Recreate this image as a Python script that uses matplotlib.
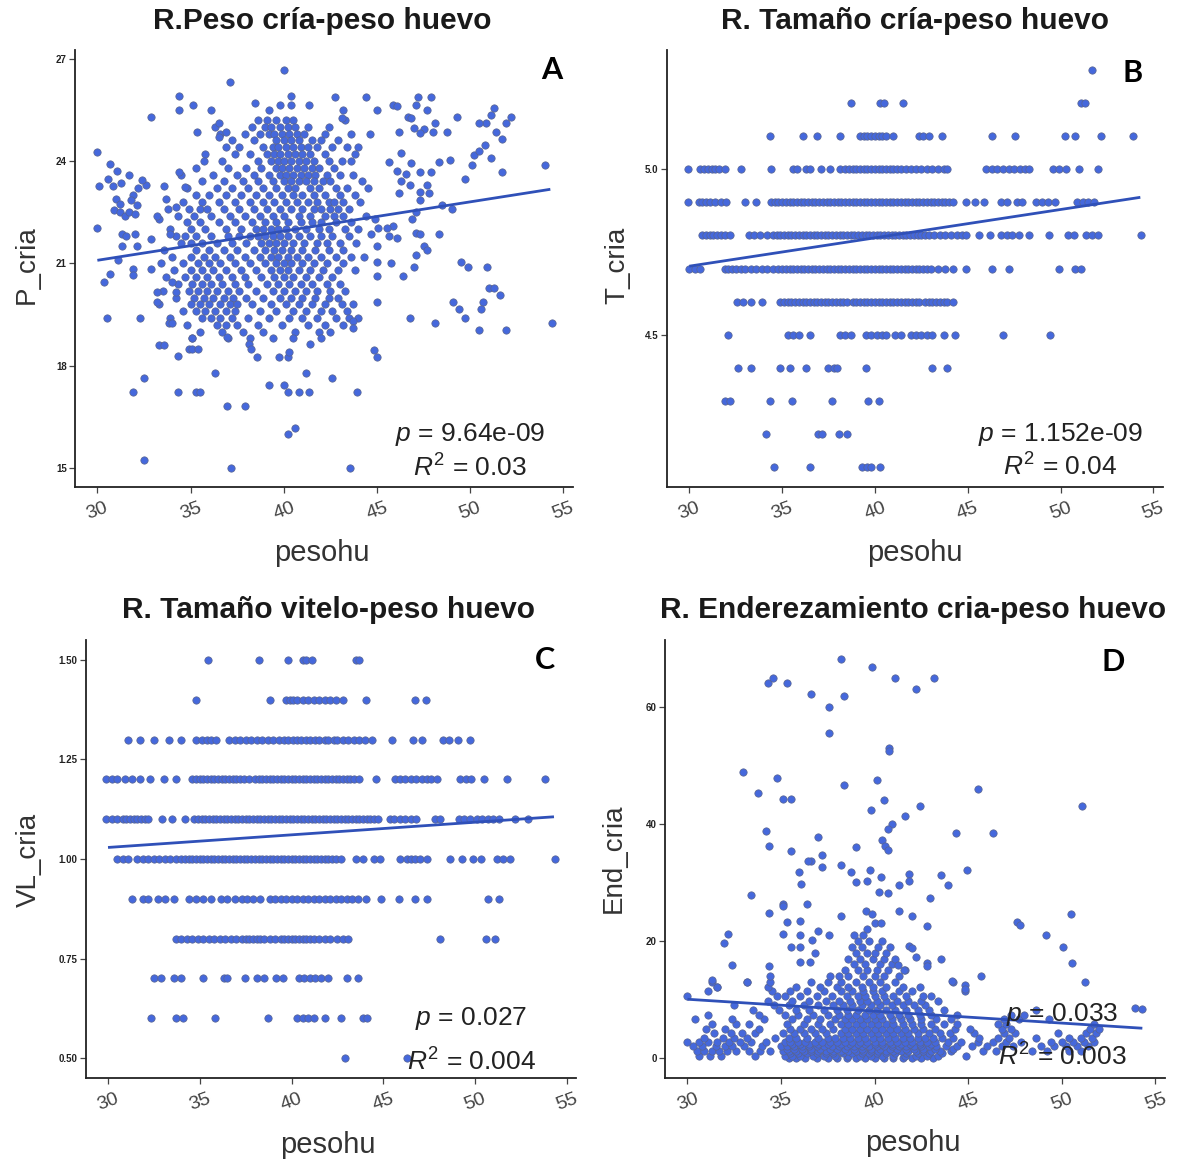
import matplotlib
matplotlib.use('Agg')
import matplotlib.pyplot as plt

plt.rcParams['font.family'] = ['Liberation Sans', 'DejaVu Sans']
plt.rcParams['mathtext.fontset'] = 'custom'
plt.rcParams['mathtext.rm'] = 'Liberation Sans'
plt.rcParams['mathtext.it'] = 'Liberation Sans:italic'

# ---------------- DATA ----------------
titles = ["R.Peso cría-peso huevo", "R. Tamaño cría-peso huevo",
          "R. Tamaño vitelo-peso huevo", "R. Enderezamiento cria-peso huevo"]
ylabels = ["P_cria", "T_cria", "VL_cria", "End_cria"]
xlabel = "pesohu"
letters = ["A", "B", "C", "D"]
p_texts = ["9.64e-09", "1.152e-09", "0.027", "0.033"]
r2_texts = ["0.03", "0.04", "0.004", "0.003"]
x_ticks = [30, 35, 40, 45, 50, 55]

a_yticks = [15, 18, 21, 24, 27]
b_yticks = [4.5, 5.0]
b_yticklabels = ["4.5", "5.0"]
c_yticks = [0.50, 0.75, 1.00, 1.25, 1.50]
c_yticklabels = ["0.50", "0.75", "1.00", "1.25", "1.50"]
d_yticks = [0, 20, 40, 60]

fit_x = [30.0, 54.3]
a_fit_y = [21.09, 23.17]
b_fit_y = [4.707, 4.915]
c_fit_y = [1.029, 1.106]
d_fit_y = [10.05, 5.1]

# Panel A: scattered outer points (x, y)
a_outer = [(30.0, 24.26), (30.0, 22.05), (30.1, 23.27), (30.35, 20.45), (30.5, 19.4), (30.7, 20.7),
           (30.7, 23.9), (30.55, 23.47), (30.85, 23.27), (31.05, 23.7), (31.25, 23.35), (30.9, 22.55),
           (31.2, 22.5), (31.5, 22.4), (31.7, 22.5), (31.0, 22.9), (31.2, 22.75), (31.3, 21.85),
           (31.55, 21.8), (31.3, 21.5), (31.1, 21.1), (31.9, 23.0), (31.8, 22.85), (32.1, 22.7),
           (32.0, 22.45), (31.7, 23.6), (32.0, 21.85), (32.1, 21.5), (31.9, 20.85), (31.9, 20.65),
           (31.9, 17.23), (32.5, 17.64), (32.5, 15.23), (32.3, 19.4), (32.9, 25.3), (32.9, 21.7),
           (32.9, 20.85), (32.6, 23.3), (32.4, 23.45), (32.2, 23.2), (33.2, 19.87), (33.2, 20.17),
           (33.3, 18.6), (33.6, 18.6), (33.7, 22.9), (33.8, 22.6), (33.3, 22.3), (33.2, 22.4),
           (33.6, 23.27), (33.9, 21.85), (33.85, 19.26), (34.0, 19.26), (34.3, 17.23), (34.3, 18.3),
           (34.4, 25.9), (34.4, 25.5), (34.4, 23.67), (34.2, 22.65), (34.0, 20.45), (34.2, 20.15),
           (34.7, 23.25), (34.9, 18.5), (35.1, 18.5), (35.4, 18.5), (35.1, 18.8), (35.15, 25.65),
           (35.35, 24.86), (35.3, 17.23), (35.5, 17.23), (35.7, 24.0), (36.1, 25.5), (36.3, 17.8),
           (36.5, 25.1), (36.5, 24.7), (36.9, 24.86), (36.95, 16.83), (37.9, 16.83), (37.1, 26.3),
           (37.15, 15.0), (36.95, 18.85), (38.15, 18.65), (38.25, 18.5), (38.55, 18.25), (38.45, 25.7),
           (39.2, 17.43), (39.2, 25.5), (39.75, 18.27), (40.2, 18.27), (40.3, 18.4), (40.0, 17.43),
           (40.2, 17.23), (40.8, 17.23), (40.2, 16.0), (40.6, 16.17), (40.0, 26.66), (39.8, 25.65),
           (40.4, 25.65), (40.4, 25.9), (41.2, 17.79), (41.35, 17.23), (41.35, 25.65), (41.4, 18.65),
           (42.6, 17.64), (42.75, 25.87), (43.2, 25.5), (43.1, 25.25), (43.55, 15.0), (43.95, 17.23),
           (44.4, 25.87), (45.0, 25.5), (44.85, 18.45), (45.0, 18.25), (45.0, 19.87), (43.7, 19.3),
           (43.7, 19.1), (45.0, 20.63), (45.0, 21.05), (45.0, 21.5), (44.7, 21.85), (44.9, 22.3),
           (45.86, 25.65), (46.07, 25.6), (46.67, 25.3), (47.08, 25.65), (47.18, 25.87), (47.7, 25.5),
           (47.9, 25.87), (46.8, 25.25), (47.5, 24.94), (48.1, 25.1), (46.2, 24.84), (47.0, 24.96),
           (47.3, 24.82), (47.99, 24.84), (48.74, 24.84), (49.3, 25.3), (48.9, 24.03), (48.35, 23.98),
           (47.9, 23.67), (47.7, 23.3), (47.3, 23.67), (46.8, 23.93), (46.3, 24.23), (45.66, 23.98),
           (46.07, 23.72), (46.27, 23.42), (46.57, 23.62), (46.77, 23.3), (46.17, 23.06), (47.3, 23.1),
           (47.8, 23.06), (47.08, 22.5), (47.3, 22.86), (46.9, 22.3), (45.86, 22.1), (45.55, 22.05),
           (46.07, 21.74), (45.05, 22.05), (45.66, 21.8), (47.08, 21.9), (47.3, 21.85), (47.5, 21.5),
           (47.7, 21.4), (47.08, 21.24), (46.98, 20.88), (46.37, 20.63), (45.76, 21.0), (48.35, 21.85),
           (46.77, 19.4), (48.1, 19.26), (49.1, 19.87), (49.4, 19.67), (49.7, 19.4), (49.5, 21.04),
           (49.9, 20.88), (50.5, 19.06), (50.7, 19.87), (50.6, 19.67), (50.9, 20.88), (51.0, 20.27),
           (51.3, 20.27), (51.6, 20.07), (51.9, 19.06), (54.4, 19.26), (49.7, 23.47), (50.2, 24.18),
           (50.5, 24.28), (50.8, 24.48), (51.1, 24.08), (50.85, 25.1), (51.3, 25.55), (51.1, 25.35),
           (51.4, 24.84), (51.7, 24.64), (51.9, 25.1), (52.2, 25.3), (51.7, 23.67), (54.0, 23.88),
           (50.5, 25.1), (50.1, 23.88), (48.5, 22.7), (49.0, 22.6)]

# Panel A: dense core, one row per y value with its x values
a_core = [
    (25.2, [38.6, 39.1, 39.6, 40.1, 40.5, 43.3]),
    (25.0, [36.3, 38.3, 39.0, 39.3, 39.8, 40.2, 40.6, 41.3, 42.4]),
    (24.8, [36.6, 37.9, 38.7, 39.2, 39.5, 39.9, 40.3, 40.7, 41.1, 42.2, 43.6, 44.6]),
    (24.6, [37.2, 38.4, 39.6, 40.0, 40.4, 40.8, 41.5, 42.0, 42.9]),
    (24.4, [36.9, 37.6, 38.9, 39.4, 39.7, 40.1, 40.5, 40.9, 41.3, 41.8, 42.6, 43.4, 44.0]),
    (24.2, [35.8, 37.4, 38.2, 39.1, 39.5, 39.8, 40.2, 40.6, 41.0, 41.4, 42.2, 43.8]),
    (24.0, [36.7, 38.6, 39.3, 39.7, 40.0, 40.4, 40.8, 41.2, 41.6, 42.4, 43.1, 43.6]),
    (23.8, [35.3, 37.0, 38.0, 38.8, 39.6, 39.9, 40.3, 40.7, 41.1, 41.5, 41.9, 42.7]),
    (23.6, [34.5, 36.2, 37.5, 38.4, 39.2, 39.8, 40.1, 40.5, 40.9, 41.3, 41.7, 42.3, 43.0, 43.7]),
    (23.4, [35.6, 36.8, 37.8, 38.6, 39.4, 40.0, 40.4, 40.8, 41.2, 41.6, 42.1, 42.5, 44.2]),
    (23.2, [34.8, 36.4, 37.2, 38.1, 38.9, 39.6, 40.2, 40.6, 41.4, 41.9, 42.8, 43.4, 44.5]),
    (23.0, [35.3, 36.0, 36.9, 37.7, 38.5, 39.2, 39.9, 40.5, 41.0, 41.6, 42.2, 43.0, 43.8]),
    (22.8, [34.6, 35.6, 36.5, 37.4, 38.2, 38.9, 39.5, 40.1, 40.7, 41.3, 41.8, 42.4, 42.7, 43.2, 44.1]),
    (22.6, [34.9, 35.5, 35.9, 36.8, 37.6, 38.4, 39.1, 39.8, 40.4, 41.0, 41.6, 42.0, 42.5, 42.9, 43.5]),
    (22.4, [34.3, 35.2, 36.1, 37.1, 37.9, 38.7, 39.4, 40.0, 40.8, 41.4, 42.2, 42.7, 43.2, 44.4]),
    (22.2, [34.8, 35.5, 36.5, 37.4, 38.3, 39.0, 39.6, 40.2, 40.9, 41.5, 42.0, 42.8, 43.6]),
    (22.0, [33.9, 35.0, 35.8, 36.9, 37.7, 38.5, 38.9, 39.3, 39.7, 40.1, 40.6, 41.2, 41.9, 42.4, 43.3, 44.0]),
    (21.8, [34.2, 34.7, 35.3, 36.1, 37.0, 37.6, 38.2, 38.6, 39.0, 39.4, 39.8, 40.2, 40.8, 41.4, 42.0, 42.6, 43.5]),
    (21.6, [34.5, 35.0, 35.6, 36.4, 37.2, 38.0, 38.8, 39.2, 39.6, 40.0, 40.5, 41.1, 41.8, 42.3, 43.0, 43.9]),
    (21.4, [33.6, 35.3, 36.0, 36.8, 37.5, 38.4, 39.0, 39.5, 39.9, 40.4, 41.0, 41.7, 42.4, 43.2]),
    (21.2, [34.0, 35.0, 35.7, 36.3, 37.1, 37.9, 38.7, 39.3, 39.7, 40.2, 40.7, 41.3, 42.0, 42.8, 43.6, 44.3]),
    (21.0, [33.4, 34.6, 35.4, 36.0, 36.6, 37.4, 38.2, 39.0, 39.6, 40.0, 40.4, 41.0, 41.6, 42.3, 43.2]),
    (20.8, [34.1, 35.0, 35.6, 36.2, 36.9, 37.7, 38.5, 39.3, 39.8, 40.2, 40.8, 41.4, 42.1, 42.9, 43.8]),
    (20.6, [33.7, 34.7, 35.3, 35.9, 36.5, 37.2, 37.9, 38.8, 39.5, 40.0, 40.5, 41.2, 41.9, 42.6]),
    (20.4, [34.3, 35.1, 35.6, 36.1, 36.7, 37.4, 38.1, 39.1, 39.7, 40.3, 40.9, 41.5, 42.3, 43.0]),
    (20.2, [33.5, 34.9, 35.4, 35.9, 36.4, 37.0, 37.6, 38.5, 39.4, 40.0, 40.6, 41.2, 41.8, 42.5, 43.3]),
    (20.0, [34.2, 35.2, 35.7, 36.2, 36.8, 37.3, 38.0, 38.9, 39.8, 40.4, 41.0, 41.7, 42.4, 42.9]),
    (19.8, [33.3, 35.0, 35.5, 36.0, 36.6, 37.1, 37.5, 38.3, 39.3, 40.1, 40.8, 41.5, 42.2, 43.1, 43.7]),
    (19.6, [34.6, 35.3, 35.8, 36.3, 36.9, 37.4, 38.7, 39.6, 40.5, 41.2, 42.0, 42.6, 43.4]),
    (19.4, [33.9, 35.6, 36.1, 36.6, 37.2, 38.1, 39.2, 40.3, 41.0, 41.8, 42.8, 43.5, 44.0]),
    (19.2, [34.8, 36.4, 36.9, 37.5, 38.6, 39.9, 41.3, 42.2, 43.2]),
    (19.0, [35.5, 36.7, 37.8, 38.9, 40.6, 41.9, 42.5]),
    (18.8, [35.1, 37.0, 38.2, 39.4, 40.5, 42.0]),
]

# Panel B: discrete T_cria levels with x values per level
b_levels = [5.3, 5.2, 5.1, 5.0, 4.9, 4.8, 4.7, 4.6, 4.5, 4.4, 4.3, 4.2, 4.1]
b_x = [
    [51.7],
    [38.7, 40.3, 40.5, 41.5, 51.1, 51.3],
    [34.35, 36.1, 36.9, 38.1, 39.2, 39.4, 39.6, 39.8, 40.0, 40.2, 40.4, 40.6, 41.0, 42.35, 42.6,
     42.9, 43.6, 46.3, 47.55, 50.25, 50.8, 52.2, 53.9],
    [29.95, 30.6, 30.8, 31.0, 31.2, 31.4, 31.6, 31.9, 32.8, 34.4, 35.6, 35.8, 36.3, 36.5, 37.1, 37.6,
     38.1, 38.4, 38.6, 38.8, 39.0, 39.2, 39.4, 39.6, 39.8, 40.0, 40.2, 40.4, 40.6, 40.8, 41.0, 41.2,
     41.4, 41.7, 41.95, 42.2, 42.5, 42.8, 43.1, 43.4, 43.7, 43.9, 46.0, 46.3, 46.6, 46.9, 47.2, 47.5,
     47.8, 48.1, 48.3, 49.6, 49.9, 50.3, 51.0, 52.0],
    [29.95, 30.5, 30.7, 30.9, 31.1, 31.4, 31.7, 32.0, 33.0, 33.6, 34.4, 34.6, 34.8, 35.0, 35.2, 35.4,
     35.6, 35.8, 36.0, 36.2, 36.4, 36.6, 36.8, 37.0, 37.2, 37.4, 37.6, 37.8, 38.0, 38.2, 38.4, 38.6,
     38.8, 39.0, 39.2, 39.4, 39.6, 39.8, 40.0, 40.2, 40.4, 40.6, 40.8, 41.0, 41.2, 41.4, 41.6, 41.8,
     42.0, 42.2, 42.4, 42.6, 42.8, 43.0, 43.2, 43.4, 43.6, 43.8, 44.0, 44.2, 44.9, 45.4, 45.9, 46.8,
     47.1, 47.65, 47.95, 48.7, 49.0, 49.3, 49.7, 50.9, 51.2, 51.5, 51.8],
    [30.7, 30.9, 31.1, 31.3, 31.5, 31.7, 31.9, 32.2, 33.2, 33.5, 33.8, 34.2, 34.5, 34.7, 34.9, 35.1,
     35.3, 35.5, 35.7, 35.9, 36.1, 36.3, 36.5, 36.7, 36.9, 37.1, 37.3, 37.5, 37.7, 37.9, 38.1, 38.3,
     38.5, 38.7, 38.9, 39.1, 39.3, 39.5, 39.7, 39.9, 40.1, 40.3, 40.5, 40.7, 40.9, 41.1, 41.3, 41.5,
     41.7, 41.9, 42.1, 42.3, 42.5, 42.7, 42.9, 43.2, 43.5, 43.8, 44.1, 44.4, 44.7, 44.9, 45.6, 46.2,
     46.8, 47.1, 47.4, 47.75, 48.3, 49.4, 50.4, 50.7, 51.4, 51.7, 52.0, 54.35],
    [30.0, 30.3, 30.6, 31.9, 32.1, 32.3, 32.5, 32.8, 33.0, 33.3, 33.6, 33.9, 34.2, 34.5, 34.8, 35.0,
     35.2, 35.4, 35.6, 35.8, 36.0, 36.2, 36.4, 36.6, 36.8, 37.0, 37.2, 37.4, 37.6, 37.8, 38.0, 38.2,
     38.4, 38.6, 38.8, 39.0, 39.2, 39.4, 39.6, 39.8, 40.0, 40.2, 40.4, 40.6, 40.8, 41.0, 41.2, 41.4,
     41.6, 41.8, 42.0, 42.2, 42.4, 42.6, 42.8, 43.0, 43.4, 43.8, 44.2, 44.9, 46.3, 47.25, 49.9,
     50.8, 51.1],
    [32.55, 32.9, 33.3, 33.9, 34.9, 35.1, 35.3, 35.5, 35.7, 35.9, 36.1, 36.3, 36.5, 36.7, 36.9, 37.1,
     37.3, 37.5, 37.7, 37.9, 38.1, 38.3, 38.5, 38.8, 39.0, 39.2, 39.4, 39.6, 39.8, 40.0, 40.2, 40.4,
     40.6, 40.8, 41.0, 41.2, 41.4, 41.6, 41.8, 42.0, 42.2, 42.4, 42.7, 42.9, 43.1, 43.3, 43.5, 43.7,
     43.9, 44.2],
    [32.1, 35.3, 35.6, 35.9, 36.5, 38.1, 38.4, 38.7, 39.5, 39.8, 40.1, 40.4, 40.6, 41.1, 41.4, 41.95,
     42.2, 42.5, 42.8, 43.1, 43.7, 44.3, 46.9, 49.45],
    [32.6, 33.35, 34.9, 35.4, 36.3, 37.45, 37.8, 37.95, 39.5, 43.05, 43.9],
    [31.95, 32.2, 34.35, 35.55, 37.7, 39.65, 40.2],
    [34.15, 36.95, 37.15, 38.05, 38.5],
    [34.55, 36.5, 39.3, 39.55, 39.8, 40.25],
]

# Panel C: discrete VL_cria levels with x values per level
c_levels = [1.5, 1.4, 1.3, 1.2, 1.1, 1.0, 0.9, 0.8, 0.7, 0.6, 0.5]
c_x = [
    [35.45, 38.25, 39.8, 40.6, 40.8, 41.1, 43.5, 43.7],
    [34.8, 38.85, 39.7, 39.9, 40.1, 40.3, 40.6, 40.9, 41.2, 41.5, 41.8, 42.1, 42.4, 42.8, 44.05,
     46.7, 47.3],
    [31.1, 31.75, 32.5, 33.3, 33.95, 34.8, 35.1, 35.4, 35.6, 35.9, 36.6, 36.9, 37.2, 37.5, 37.8,
     38.1, 38.4, 38.7, 39.0, 39.3, 39.6, 39.8, 40.1, 40.3, 40.5, 40.8, 41.0, 41.3, 41.5, 41.8, 42.0,
     42.3, 42.5, 42.8, 43.1, 43.4, 43.7, 44.0, 44.4, 45.5, 46.6, 47.1, 48.25, 48.6, 49.05, 49.7],
    [29.9, 30.2, 30.5, 30.9, 31.3, 31.75, 32.3, 33.05, 33.7, 34.6, 34.8, 35.0, 35.2, 35.4, 35.6,
     35.8, 36.0, 36.2, 36.4, 36.6, 36.8, 37.0, 37.2, 37.4, 37.7, 38.0, 38.2, 38.4, 38.6, 38.8, 39.0,
     39.2, 39.4, 39.6, 39.8, 40.0, 40.2, 40.4, 40.6, 40.8, 41.0, 41.2, 41.4, 41.6, 41.8, 42.0, 42.2,
     42.4, 42.6, 42.8, 43.0, 43.2, 43.4, 43.7, 44.6, 45.65, 45.9, 46.2, 46.5, 46.8, 47.1, 47.4, 47.6,
     47.9, 49.2, 49.5, 49.8, 50.5, 51.75, 53.8],
    [29.9, 30.2, 30.5, 30.8, 31.0, 31.2, 31.4, 31.6, 31.8, 32.0, 32.2, 32.95, 33.5, 34.2, 34.7, 34.9,
     35.1, 35.3, 35.5, 35.7, 35.9, 36.1, 36.3, 36.5, 36.7, 36.9, 37.1, 37.3, 37.5, 37.7, 37.9, 38.1,
     38.3, 38.5, 38.7, 38.9, 39.1, 39.3, 39.5, 39.7, 39.9, 40.1, 40.3, 40.5, 40.7, 40.9, 41.1, 41.3,
     41.5, 41.7, 41.9, 42.1, 42.3, 42.5, 42.7, 42.9, 43.1, 43.3, 43.5, 43.7, 43.9, 44.1, 44.3, 44.5,
     44.7, 45.35, 45.6, 45.9, 46.2, 46.5, 46.8, 47.8, 48.1, 49.1, 49.4, 49.7, 50.1, 50.4, 50.7,
     51.0, 51.3, 52.2, 52.9],
    [30.5, 30.8, 31.1, 31.6, 31.9, 32.2, 32.5, 32.8, 33.1, 33.4, 33.7, 34.0, 34.2, 34.4, 34.6, 34.8,
     35.0, 35.2, 35.4, 35.6, 35.8, 36.0, 36.2, 36.4, 36.6, 36.8, 37.0, 37.2, 37.4, 37.6, 37.8, 38.0,
     38.2, 38.4, 38.6, 38.8, 39.0, 39.2, 39.4, 39.6, 39.8, 40.0, 40.2, 40.4, 40.6, 40.8, 41.0, 41.2,
     41.4, 41.6, 41.8, 42.0, 42.2, 42.4, 42.7, 43.5, 43.9, 44.5, 44.8, 45.9, 46.3, 46.5, 46.7, 47.0,
     47.4, 48.65, 49.3, 49.9, 50.3, 51.2, 51.5, 51.9, 54.35],
    [31.3, 31.9, 32.2, 32.75, 33.1, 33.6, 34.4, 34.8, 35.2, 35.6, 36.15, 36.5, 36.9, 37.3, 37.6,
     37.9, 38.3, 38.8, 39.1, 39.4, 39.7, 40.0, 40.3, 40.6, 40.9, 41.2, 41.5, 41.8, 42.1, 42.4, 42.7,
     43.0, 43.3, 43.6, 44.05, 44.9, 45.85, 46.7, 47.4, 50.7, 51.3],
    [33.7, 34.0, 34.3, 34.6, 34.9, 35.2, 35.5, 35.8, 36.1, 36.4, 36.7, 37.0, 37.3, 37.5, 37.7, 37.9,
     38.1, 38.3, 38.5, 38.8, 39.1, 39.4, 39.6, 39.8, 40.0, 40.2, 40.4, 40.6, 40.8, 41.0, 41.2, 41.5,
     41.8, 42.1, 42.5, 42.8, 43.1, 48.1, 50.6, 51.1],
    [32.5, 32.9, 33.6, 34.0, 35.2, 36.3, 36.5, 37.45, 38.1, 38.5, 39.15, 39.55, 40.4, 40.7, 41.0,
     41.3, 41.6, 42.0, 43.0, 43.6],
    [32.35, 33.7, 34.1, 35.85, 38.7, 40.3, 40.6, 40.9, 41.2, 41.85, 42.7, 43.9, 44.1],
    [42.9, 46.3],
]

# Panel D: scattered upper points (x, y)
d_outer = [(38.18, 68.1), (39.88, 66.8), (34.32, 64.05), (34.55, 64.9), (35.33, 64.05), (36.6, 62.1),
           (38.38, 61.9), (37.58, 60.0), (37.58, 55.6), (41.1, 64.9), (42.2, 63.1), (43.17, 64.9),
           (40.75, 53.0), (40.75, 52.4), (32.97, 48.8), (33.78, 45.35), (34.8, 47.8), (35.1, 44.2),
           (35.55, 44.2), (38.38, 46.6), (40.14, 47.5), (40.5, 44.1), (39.78, 42.3), (42.42, 43.1),
           (41.6, 41.3), (40.95, 40.0), (40.7, 39.1), (45.53, 45.9), (46.34, 38.4), (51.1, 43.1),
           (44.34, 38.4), (34.22, 38.8), (34.34, 36.2), (37.0, 37.7), (35.55, 35.3), (37.2, 34.7),
           (36.6, 33.7), (37.17, 32.6), (38.18, 32.9), (39.0, 36.0), (38.75, 31.8), (39.0, 30.1),
           (39.6, 30.2), (39.74, 32.1), (40.34, 31.0), (40.24, 28.3), (40.73, 28.2), (40.4, 37.2),
           (40.55, 36.2), (40.7, 35.6), (41.82, 31.4), (41.82, 30.2), (41.3, 29.5), (43.57, 31.2),
           (43.9, 29.5), (44.95, 32.2), (42.97, 27.3), (33.37, 27.9), (36.04, 29.8), (36.46, 33.7),
           (35.96, 31.7), (36.4, 26.3), (35.13, 26.3), (35.13, 25.9), (34.34, 24.7), (35.33, 23.2),
           (35.99, 23.4), (38.18, 24.2), (39.53, 25.1), (39.84, 24.6), (40.0, 23.1), (40.34, 23.0),
           (41.3, 25.1), (41.99, 24.2), (42.77, 22.5), (47.6, 23.2), (47.78, 22.8), (49.13, 21.1),
           (50.08, 18.9), (50.55, 16.3), (51.25, 12.95), (50.5, 24.6), (53.9, 8.6), (54.3, 8.3),
           (45.7, 14.1), (31.96, 19.6), (32.16, 21.2), (32.4, 15.85), (31.3, 13.4), (31.6, 12.2),
           (33.17, 12.95), (34.38, 15.7), (36.0, 21.1), (37.0, 21.7), (37.58, 21.1), (36.0, 19.05),
           (36.0, 16.4), (36.57, 16.4), (36.8, 18.0), (36.67, 20.1), (35.1, 21.2), (35.55, 19.05),
           (41.82, 19.2), (42.0, 18.75), (42.2, 17.3), (42.77, 16.3), (42.77, 15.7), (43.57, 17.0),
           (44.14, 13.2), (44.8, 12.4), (44.8, 11.8), (41.25, 15.85), (41.55, 15.0)]

# Panel D: dense band, one row per y value with its x values
d_core = [
    (0.0, [35.4, 35.8, 36.3, 36.9, 37.5, 38.0, 38.5, 39.0, 39.5, 40.0, 40.5, 41.0, 41.5, 42.0, 42.5,
           43.1]),
    (0.4, [30.6, 31.2, 31.8, 33.6, 35.2, 35.6, 36.0, 36.7, 37.3, 37.9, 38.6, 39.2, 39.8, 40.4, 41.0,
           41.6, 42.2, 42.8, 43.4, 44.9]),
    (0.8, [35.5, 35.9, 36.4, 36.9, 37.4, 37.8, 38.3, 38.8, 39.3, 39.7, 40.1, 40.6, 41.1, 41.7, 42.3,
           42.9, 43.6]),
    (1.2, [30.5, 30.9, 31.3, 31.7, 32.1, 32.6, 33.3, 33.9, 34.4, 35.1, 35.4, 35.8, 36.2, 36.6, 37.0,
           37.4, 37.8, 38.2, 38.6, 39.0, 39.4, 39.8, 40.2, 40.6, 41.0, 41.4, 41.8, 42.2, 42.6, 43.0,
           43.5, 44.1, 45.8, 46.5, 48.4, 49.2, 50.4, 51.0]),
    (1.6, [35.3, 35.7, 36.1, 36.6, 37.1, 37.6, 38.0, 38.4, 38.9, 39.3, 39.8, 40.3, 40.8, 41.2, 41.7,
           42.1, 42.6, 43.2, 44.2]),
    (2.0, [30.3, 30.8, 31.5, 32.0, 32.4, 33.0, 34.0, 35.0, 35.3, 35.7, 36.1, 36.5, 36.9, 37.3, 37.7,
           38.1, 38.5, 38.9, 39.3, 39.7, 40.1, 40.5, 40.9, 41.3, 41.7, 42.1, 42.5, 42.9, 43.3, 43.8,
           44.4, 45.2, 46.0, 46.8, 47.4, 48.9, 49.6, 50.2, 50.8, 51.4]),
    (2.4, [35.6, 36.0, 36.5, 37.0, 37.5, 38.2, 38.7, 39.1, 39.5, 40.0, 40.4, 40.9, 41.4, 41.9, 42.4,
           43.0]),
    (2.8, [30.0, 30.6, 31.1, 31.6, 32.2, 32.8, 33.4, 34.2, 35.2, 35.5, 35.9, 36.3, 36.8, 37.2, 37.6,
           38.0, 38.4, 38.8, 39.2, 39.6, 40.0, 40.4, 40.8, 41.2, 41.6, 42.0, 42.4, 42.8, 43.2, 43.9,
           44.6, 45.5, 46.3, 47.0, 47.8, 49.4, 50.0, 50.6, 51.2, 51.7]),
    (3.4, [30.9, 31.9, 32.5, 33.2, 34.7, 35.4, 35.8, 36.4, 37.0, 37.5, 37.9, 38.3, 38.7, 39.1, 39.5,
           39.9, 40.3, 40.7, 41.1, 41.5, 41.9, 42.3, 42.7, 43.1, 43.6, 44.2, 45.6, 46.6, 47.2, 48.6,
           50.4, 51.0, 51.6]),
    (4.2, [31.4, 32.3, 32.9, 33.6, 35.1, 35.7, 36.2, 36.8, 37.4, 38.2, 38.6, 39.0, 39.4, 39.8, 40.2,
           40.6, 41.0, 41.4, 41.8, 42.3, 42.9, 43.5, 44.0, 45.3, 46.9, 47.5, 49.8, 51.3, 51.8]),
    (5.0, [31.0, 32.0, 33.8, 35.5, 36.0, 36.6, 37.2, 37.8, 38.4, 38.8, 39.2, 39.6, 40.0, 40.4, 40.8,
           41.2, 41.6, 42.1, 42.6, 43.2, 44.3, 45.1, 46.8, 47.3, 51.5, 52.0]),
    (5.8, [31.3, 32.6, 33.3, 35.3, 36.2, 37.0, 37.6, 38.2, 38.6, 39.0, 39.4, 39.8, 40.2, 40.6, 41.0,
           41.5, 42.0, 42.5, 43.0, 43.7, 44.4, 46.6, 47.0, 51.7]),
    (6.6, [30.4, 32.4, 34.1, 35.6, 36.4, 37.1, 37.9, 38.4, 38.8, 39.2, 39.6, 40.0, 40.4, 40.9, 41.4,
           41.9, 42.5, 43.3, 44.1, 46.9, 47.7, 49.3]),
    (7.4, [31.1, 33.8, 35.2, 35.9, 36.7, 37.5, 38.1, 38.6, 39.0, 39.5, 39.9, 40.3, 40.8, 41.3, 41.8,
           42.4, 43.0, 44.4, 47.3, 48.0]),
    (8.2, [33.5, 34.9, 35.8, 36.5, 37.3, 38.0, 38.5, 39.1, 39.7, 40.1, 40.6, 41.1, 41.7, 42.3, 42.9,
           43.7, 48.6]),
    (9.0, [32.5, 34.6, 35.4, 36.2, 37.0, 37.8, 38.3, 38.8, 39.3, 39.8, 40.3, 40.9, 41.5, 42.1, 42.7]),
    (9.8, [34.3, 35.6, 36.5, 37.4, 38.1, 38.7, 39.2, 39.6, 40.1, 40.6, 41.2, 41.8, 42.5, 43.4]),
    (10.6, [30.0, 34.8, 35.2, 36.0, 36.9, 37.7, 38.5, 39.1, 39.5, 40.0, 40.5, 41.0, 41.7, 42.6, 43.0]),
    (11.4, [31.1, 34.5, 35.5, 36.4, 37.3, 38.2, 38.8, 39.4, 39.9, 40.4, 41.3, 42.0, 44.8]),
    (12.2, [31.6, 34.3, 35.8, 37.1, 38.0, 38.6, 39.3, 39.9, 40.6, 41.5, 42.4]),
    (13.0, [31.3, 33.2, 34.4, 36.6, 37.5, 38.2, 39.0, 39.7, 40.3, 41.1, 44.2]),
    (14.0, [34.4, 37.6, 38.1, 38.6, 39.4, 40.0, 40.5, 41.3]),
    (15.0, [38.4, 39.1, 39.6, 40.1, 40.7, 41.6]),
    (16.0, [38.9, 39.5, 40.3, 40.9]),
    (17.0, [38.6, 39.2, 39.9, 40.5, 41.1]),
    (18.0, [39.0, 39.6, 40.0, 40.6]),
    (19.0, [38.8, 39.3, 40.2, 40.8]),
    (20.0, [39.1, 39.7, 40.4]),
    (21.0, [38.9, 39.4]),
    (22.0, [39.6]),
]

# ---------------- helpers ----------------
def pts_from_rows(rows):
    xs, ys = [], []
    for y, xlist in rows:
        for x in xlist:
            xs.append(x)
            ys.append(y)
    return xs, ys


def pts_from_levels(levels, xlists):
    xs, ys = [], []
    for y, xlist in zip(levels, xlists):
        for x in xlist:
            xs.append(x)
            ys.append(y)
    return xs, ys


W, H = 1182, 1164
fig = plt.figure(figsize=(W / 100, H / 100), dpi=100)
fig.patch.set_facecolor('white')

PT_FACE = '#4568dc'
PT_EDGE = '#58648f'
LINE_C = '#2f50b8'


def make_axes(left, top, right, bottom):
    return fig.add_axes([left / W, 1 - bottom / H, (right - left) / W, (bottom - top) / H])


def style(ax, ylim, yticks, yticklabels):
    ax.set_xlim(28.8, 55.5)
    ax.set_ylim(*ylim)
    for s in ['top', 'right']:
        ax.spines[s].set_visible(False)
    for s in ['left', 'bottom']:
        ax.spines[s].set_color('#222222')
        ax.spines[s].set_linewidth(1.3)
    ax.set_xticks(x_ticks)
    ax.set_xticklabels([str(t) for t in x_ticks], rotation=20, fontsize=14,
                       color='#444444')
    ax.set_yticks(yticks)
    ax.set_yticklabels(yticklabels, fontsize=7, fontweight='bold', color='#222222')
    ax.tick_params(axis='x', length=4, width=0.9, color='#444444', pad=5)
    ax.tick_params(axis='y', length=4, width=0.9, color='#444444', pad=2)


def draw(ax, xs, ys, fy):
    ax.scatter(xs, ys, s=28, c=PT_FACE, edgecolors=PT_EDGE, linewidths=0.5, zorder=2)
    ax.plot(fit_x, fy, color=LINE_C, lw=2.0, zorder=3, solid_capstyle='butt')


def annotate(ax, xy_p, xy_r, ptxt, rtxt):
    ax.text(xy_p[0], xy_p[1], r'$\it{p}$' + ' = ' + ptxt, ha='center', va='center',
            fontsize=19, color='#222222', zorder=4)
    ax.text(xy_r[0], xy_r[1], r'$\it{R}^2$' + ' = ' + rtxt, ha='center', va='center',
            fontsize=19, color='#222222', zorder=4)


def ftext(x, y, s, **kw):
    fig.text(x / W, 1 - y / H, s, ha='center', va='center', **kw)


# Panel A
axA = make_axes(75, 50, 572.7, 487)
ax_x, ax_y = pts_from_rows(a_core)
ax_x += [p[0] for p in a_outer]
ax_y += [p[1] for p in a_outer]
draw(axA, ax_x, ax_y, a_fit_y)
style(axA, (14.45, 27.25), a_yticks, [str(t) for t in a_yticks])
annotate(axA, (50, 16.0), (50, 15.0), p_texts[0], r2_texts[0])

# Panel B
axB = make_axes(667, 50, 1162.6, 487)
bx, by = pts_from_levels(b_levels, b_x)
draw(axB, bx, by, b_fit_y)
style(axB, (4.04, 5.36), b_yticks, b_yticklabels)
annotate(axB, (50, 4.2), (50, 4.1), p_texts[1], r2_texts[1])

# Panel C
axC = make_axes(86, 640, 576, 1078)
cx, cy = pts_from_levels(c_levels, c_x)
draw(axC, cx, cy, c_fit_y)
style(axC, (0.45, 1.55), c_yticks, c_yticklabels)
annotate(axC, (49.8, 0.6), (49.8, 0.49), p_texts[2], r2_texts[2])

# Panel D
axD = make_axes(665, 640, 1164.8, 1078)
dx, dy = pts_from_rows(d_core)
dx += [p[0] for p in d_outer]
dy += [p[1] for p in d_outer]
draw(axD, dx, dy, d_fit_y)
style(axD, (-3.4, 71.4), d_yticks, [str(t) for t in d_yticks])
annotate(axD, (50, 7.4), (50, 0.2), p_texts[3], r2_texts[3])

# Titles, axis labels, letters
title_pos = [(322, 21), (915, 21), (328, 610), (913, 610)]
xlab_pos = [(322, 553), (915, 553), (328, 1145), (913, 1143)]
ylab_pos = [(27, 265), (617, 265), (29, 860), (614, 858)]
letter_pos = [(552, 70), (1133, 73), (545, 660), (1113, 662)]
for i in range(4):
    ftext(*title_pos[i], titles[i], fontsize=21.5, fontweight='bold', color='#1a1a1a')
    ftext(*xlab_pos[i], xlabel, fontsize=21, color='#333333')
    ftext(*ylab_pos[i], ylabels[i], fontsize=20, color='#333333', rotation=90)
    fig.text(letter_pos[i][0] / W, 1 - letter_pos[i][1] / H, letters[i], ha='center',
             va='center', fontsize=22, fontweight='bold', color='black',
             family=['Lato', 'Liberation Sans', 'DejaVu Sans'])

fig.savefig('out.png', dpi=100, facecolor='white')
